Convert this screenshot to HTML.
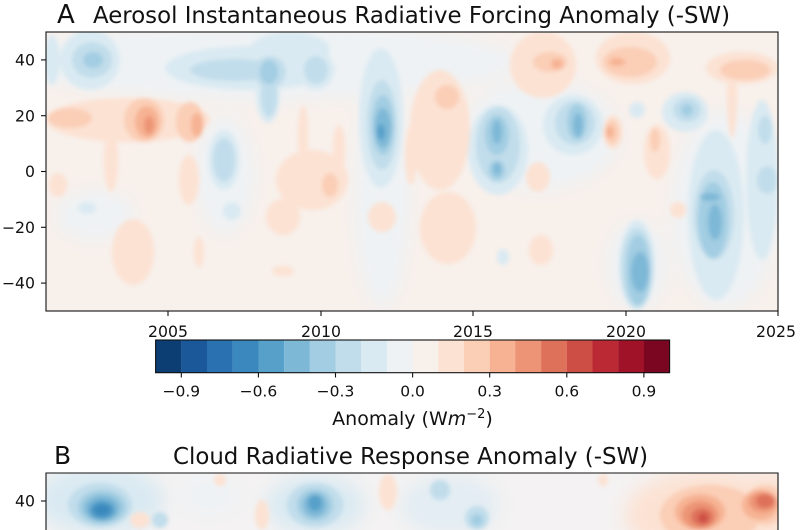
<!DOCTYPE html>
<html><head><meta charset="utf-8"><style>
html,body{margin:0;padding:0;background:#fff;width:800px;height:530px;overflow:hidden;}
svg{display:block;}
text{font-family:"DejaVu Sans","Liberation Sans",sans-serif;fill:#111;}
</style></head><body>
<svg width="800" height="530" viewBox="0 0 800 530" xmlns="http://www.w3.org/2000/svg" overflow="hidden">
<defs>
<clipPath id="ca"><rect x="46" y="32" width="732" height="279"/></clipPath>
<filter id="bl" x="-30%" y="-30%" width="160%" height="160%"><feGaussianBlur stdDeviation="2"/></filter>
<filter id="bl2" x="-30%" y="-30%" width="160%" height="160%"><feGaussianBlur stdDeviation="9"/></filter>
<pattern id="pb" patternUnits="userSpaceOnUse" x="0" y="0" width="800" height="600">
<rect x="0" y="440" width="800" height="160" fill="#f4f2f2"/>
<g filter="url(#bl2)">
<ellipse cx="100" cy="500" rx="65" ry="35" fill="#daeaf2"/>
<ellipse cx="315" cy="505" rx="50" ry="30" fill="#daeaf2"/>
<ellipse cx="450" cy="505" rx="50" ry="30" fill="#e3edf3"/>
<ellipse cx="210" cy="495" rx="30" ry="20" fill="#eef2f5"/>
<ellipse cx="710" cy="515" rx="85" ry="45" fill="#fce2d3"/>
<ellipse cx="770" cy="505" rx="25" ry="35" fill="#fce2d3"/>
</g>
<g filter="url(#bl)">
<g fill="#fbceb6">
<ellipse cx="710" cy="515" rx="50" ry="30"/>
<ellipse cx="765" cy="505" rx="20" ry="20"/>
</g>
<g fill="#c1ddeb">
<ellipse cx="100" cy="505" rx="32" ry="22"/>
<ellipse cx="315" cy="505" rx="28" ry="22"/>
<ellipse cx="477" cy="518" rx="12" ry="12"/>
<ellipse cx="160" cy="520" rx="8" ry="8"/>
<ellipse cx="440" cy="490" rx="10" ry="10"/>
</g>
<g fill="#a2cde2">
<ellipse cx="102" cy="507" rx="24" ry="17"/>
<ellipse cx="315" cy="505" rx="18" ry="16"/>
<ellipse cx="477" cy="520" rx="6" ry="6"/>
</g>
<g fill="#7eb8d7">
<ellipse cx="102" cy="508" rx="18" ry="13"/>
<ellipse cx="315" cy="505" rx="12" ry="12"/>
</g>
<g fill="#57a0ca">
<ellipse cx="102" cy="510" rx="13" ry="10"/>
<ellipse cx="315" cy="503" rx="7" ry="8"/>
</g>
<g fill="#3a88bd"><ellipse cx="102" cy="510" rx="9" ry="6"/></g>
<g fill="#fce2d3">
<ellipse cx="388" cy="492" rx="9" ry="18"/>
<ellipse cx="262" cy="515" rx="7" ry="15"/>
<ellipse cx="140" cy="520" rx="10" ry="8"/>
<ellipse cx="220" cy="480" rx="6" ry="6"/>
<ellipse cx="603" cy="480" rx="5" ry="6"/>
</g>
<g fill="#f6b293">
<ellipse cx="700" cy="512" rx="25" ry="18"/>
<ellipse cx="760" cy="505" rx="18" ry="15"/>
</g>
<g fill="#ec9475">
<ellipse cx="700" cy="515" rx="18" ry="14"/>
<ellipse cx="763" cy="502" rx="14" ry="10"/>
</g>
<g fill="#de715a">
<ellipse cx="702" cy="517" rx="11" ry="9"/>
<ellipse cx="765" cy="501" rx="9" ry="7"/>
</g>
<g fill="#cd4e44"><ellipse cx="703" cy="518" rx="5" ry="5"/></g>
</g>
</pattern>
</defs>

<!-- Panel A heatmap -->
<g clip-path="url(#ca)">
<rect x="46" y="32" width="732" height="279" fill="#f8f0eb"/>
<g filter="url(#bl2)" fill="#eef2f5">
<ellipse cx="270" cy="62" rx="250" ry="38"/>
<ellipse cx="225" cy="175" rx="30" ry="60"/>
<ellipse cx="382" cy="190" rx="28" ry="120"/>
<ellipse cx="540" cy="135" rx="80" ry="55"/>
<ellipse cx="725" cy="210" rx="53" ry="100"/>
<ellipse cx="637" cy="265" rx="30" ry="45"/>
<ellipse cx="95" cy="215" rx="40" ry="25"/>
</g>
<g filter="url(#bl)">
<g fill="#daeaf2">
<ellipse cx="90" cy="60" rx="30" ry="30"/>
<ellipse cx="52" cy="60" rx="8" ry="25"/>
<ellipse cx="250" cy="68" rx="85" ry="22"/>
<ellipse cx="290" cy="50" rx="40" ry="18"/>
<ellipse cx="268" cy="95" rx="12" ry="28"/>
<ellipse cx="316" cy="70" rx="18" ry="20"/>
<ellipse cx="381" cy="118" rx="22" ry="70"/>
<ellipse cx="224" cy="160" rx="16" ry="30"/>
<ellipse cx="232" cy="211" rx="9" ry="9"/>
<ellipse cx="87" cy="208" rx="9" ry="6"/>
<ellipse cx="498" cy="150" rx="30" ry="45"/>
<ellipse cx="573" cy="125" rx="30" ry="30"/>
<ellipse cx="637" cy="110" rx="8" ry="8"/>
<ellipse cx="685" cy="112" rx="23" ry="20"/>
<ellipse cx="716" cy="215" rx="28" ry="85"/>
<ellipse cx="762" cy="180" rx="16" ry="80"/>
<ellipse cx="637" cy="265" rx="18" ry="45"/>
<ellipse cx="503" cy="257" rx="6" ry="8"/>
</g>
<g fill="#c1ddeb">
<ellipse cx="92" cy="60" rx="20" ry="18"/>
<ellipse cx="235" cy="70" rx="45" ry="11"/>
<ellipse cx="270" cy="72" rx="16" ry="16"/>
<ellipse cx="269" cy="95" rx="8" ry="22"/>
<ellipse cx="316" cy="70" rx="12" ry="14"/>
<ellipse cx="382" cy="125" rx="15" ry="45"/>
<ellipse cx="224" cy="160" rx="11" ry="22"/>
<ellipse cx="498" cy="145" rx="22" ry="38"/>
<ellipse cx="575" cy="123" rx="20" ry="22"/>
<ellipse cx="687" cy="110" rx="14" ry="12"/>
<ellipse cx="714" cy="215" rx="20" ry="45"/>
<ellipse cx="765" cy="130" rx="7" ry="14"/>
<ellipse cx="767" cy="180" rx="10" ry="14"/>
<ellipse cx="637" cy="268" rx="16" ry="40"/>
</g>
<g fill="#a2cde2">
<ellipse cx="93" cy="60" rx="10" ry="8"/>
<ellipse cx="269" cy="72" rx="9" ry="12"/>
<ellipse cx="383" cy="125" rx="11" ry="30"/>
<ellipse cx="497" cy="135" rx="12" ry="20"/>
<ellipse cx="497" cy="170" rx="8" ry="10"/>
<ellipse cx="577" cy="122" rx="10" ry="18"/>
<ellipse cx="687" cy="110" rx="6" ry="6"/>
<ellipse cx="713" cy="220" rx="15" ry="38"/>
<ellipse cx="638" cy="270" rx="12" ry="35"/>
</g>
<g fill="#7eb8d7">
<ellipse cx="383" cy="128" rx="8" ry="20"/>
<ellipse cx="497" cy="132" rx="5" ry="12"/>
<ellipse cx="497" cy="169" rx="4" ry="6"/>
<ellipse cx="578" cy="125" rx="5" ry="12"/>
<ellipse cx="710" cy="197" rx="10" ry="4"/>
<ellipse cx="715" cy="222" rx="7" ry="18"/>
<ellipse cx="640" cy="272" rx="9" ry="20"/>
</g>
<g fill="#57a0ca"><ellipse cx="381" cy="132" rx="4" ry="8"/></g>

<g fill="#fce2d3">
<ellipse cx="128" cy="120" rx="82" ry="22"/>
<ellipse cx="111" cy="160" rx="7" ry="32"/>
<ellipse cx="189" cy="180" rx="10" ry="25"/>
<ellipse cx="58" cy="185" rx="9" ry="12"/>
<ellipse cx="133" cy="252" rx="21" ry="33"/>
<ellipse cx="199" cy="252" rx="5" ry="15"/>
<ellipse cx="312" cy="180" rx="36" ry="30"/>
<ellipse cx="303" cy="135" rx="5" ry="30"/>
<ellipse cx="339" cy="150" rx="6" ry="25"/>
<ellipse cx="283" cy="217" rx="17" ry="18"/>
<ellipse cx="283" cy="271" rx="11" ry="5"/>
<ellipse cx="382" cy="217" rx="14" ry="15"/>
<ellipse cx="411" cy="155" rx="6" ry="30"/>
<ellipse cx="440" cy="130" rx="30" ry="60"/>
<ellipse cx="448" cy="228" rx="28" ry="36"/>
<ellipse cx="543" cy="65" rx="33" ry="33"/>
<ellipse cx="633" cy="58" rx="37" ry="26"/>
<ellipse cx="742" cy="68" rx="36" ry="16"/>
<ellipse cx="732" cy="100" rx="5" ry="38"/>
<ellipse cx="613" cy="132" rx="10" ry="17"/>
<ellipse cx="657" cy="152" rx="13" ry="27"/>
<ellipse cx="538" cy="177" rx="12" ry="15"/>
<ellipse cx="541" cy="250" rx="12" ry="15"/>
<ellipse cx="678" cy="210" rx="8" ry="8"/>
</g>
<g fill="#fbceb6">
<ellipse cx="70" cy="118" rx="22" ry="10"/>
<ellipse cx="144" cy="120" rx="20" ry="22"/>
<ellipse cx="190" cy="122" rx="14" ry="20"/>
<ellipse cx="330" cy="185" rx="8" ry="12"/>
<ellipse cx="550" cy="62" rx="17" ry="10"/>
<ellipse cx="630" cy="62" rx="27" ry="15"/>
<ellipse cx="447" cy="97" rx="12" ry="12"/>
<ellipse cx="612" cy="132" rx="7" ry="12"/>
<ellipse cx="655" cy="140" rx="5" ry="12"/>
<ellipse cx="745" cy="70" rx="25" ry="10"/>
</g>
<g fill="#f6b293">
<ellipse cx="147" cy="122" rx="12" ry="16"/>
<ellipse cx="197" cy="125" rx="6" ry="12"/>
<ellipse cx="557" cy="64" rx="6" ry="5"/>
<ellipse cx="617" cy="62" rx="8" ry="4"/>
<ellipse cx="610" cy="132" rx="4" ry="6"/>
</g>
<g fill="#ec9475"><ellipse cx="149" cy="125" rx="5" ry="9"/></g>
</g>
</g>

<!-- Panel B heatmap (pattern-filled, stays within frame) -->
<rect x="46" y="473" width="732" height="57" fill="url(#pb)"/>

<!-- Panel A axes -->
<rect x="46" y="32" width="732" height="279" fill="none" stroke="#111" stroke-width="1.1"/>
<g stroke="#111" stroke-width="1.1">
<line x1="41" y1="59.9" x2="46" y2="59.9"/>
<line x1="41" y1="115.7" x2="46" y2="115.7"/>
<line x1="41" y1="171.5" x2="46" y2="171.5"/>
<line x1="41" y1="227.3" x2="46" y2="227.3"/>
<line x1="41" y1="283.1" x2="46" y2="283.1"/>
<line x1="168" y1="311" x2="168" y2="316"/>
<line x1="321" y1="311" x2="321" y2="316"/>
<line x1="473" y1="311" x2="473" y2="316"/>
<line x1="626" y1="311" x2="626" y2="316"/>
<line x1="778" y1="311" x2="778" y2="316"/>
</g>
<g font-size="15.7" text-anchor="end">
<text x="35" y="65.5">40</text>
<text x="35" y="121.3">20</text>
<text x="35" y="177.1">0</text>
<text x="35" y="232.9">−20</text>
<text x="35" y="288.7">−40</text>
</g>
<g font-size="15.7" text-anchor="middle">
<text x="168" y="337">2005</text>
<text x="321" y="337">2010</text>
<text x="473" y="337">2015</text>
<text x="626" y="337">2020</text>
<text x="776" y="337">2025</text>
</g>
<text x="57" y="23" font-size="26">A</text>
<text x="93" y="23" font-size="22.8" textLength="637" lengthAdjust="spacingAndGlyphs">Aerosol Instantaneous Radiative Forcing Anomaly (-SW)</text>

<!-- Colorbar -->
<g>
<rect x="155.6" y="340" width="25.8" height="32.7" fill="#0c3e74"/>
<rect x="181.3" y="340" width="25.8" height="32.7" fill="#1a5899"/>
<rect x="207" y="340" width="25.8" height="32.7" fill="#2a71b2"/>
<rect x="232.7" y="340" width="25.8" height="32.7" fill="#3a88bd"/>
<rect x="258.4" y="340" width="25.8" height="32.7" fill="#57a0ca"/>
<rect x="284.1" y="340" width="25.8" height="32.7" fill="#7eb8d7"/>
<rect x="309.8" y="340" width="25.8" height="32.7" fill="#a2cde2"/>
<rect x="335.5" y="340" width="25.8" height="32.7" fill="#c1ddeb"/>
<rect x="361.2" y="340" width="25.8" height="32.7" fill="#daeaf2"/>
<rect x="386.9" y="340" width="25.8" height="32.7" fill="#eef2f5"/>
<rect x="412.6" y="340" width="25.8" height="32.7" fill="#f8f0eb"/>
<rect x="438.3" y="340" width="25.8" height="32.7" fill="#fce2d3"/>
<rect x="464" y="340" width="25.8" height="32.7" fill="#fbceb6"/>
<rect x="489.7" y="340" width="25.8" height="32.7" fill="#f6b293"/>
<rect x="515.4" y="340" width="25.8" height="32.7" fill="#ec9475"/>
<rect x="541.1" y="340" width="25.8" height="32.7" fill="#de715a"/>
<rect x="566.8" y="340" width="25.8" height="32.7" fill="#cd4e44"/>
<rect x="592.5" y="340" width="25.8" height="32.7" fill="#bb2a34"/>
<rect x="618.2" y="340" width="25.8" height="32.7" fill="#9f1228"/>
<rect x="643.9" y="340" width="25.7" height="32.7" fill="#7a0622"/>
<rect x="155.6" y="340" width="514" height="32.7" fill="none" stroke="#111" stroke-width="1.1"/>
</g>
<g stroke="#111" stroke-width="1.1">
<line x1="181.3" y1="372.7" x2="181.3" y2="377.5"/>
<line x1="258.4" y1="372.7" x2="258.4" y2="377.5"/>
<line x1="335.5" y1="372.7" x2="335.5" y2="377.5"/>
<line x1="412.6" y1="372.7" x2="412.6" y2="377.5"/>
<line x1="489.7" y1="372.7" x2="489.7" y2="377.5"/>
<line x1="566.8" y1="372.7" x2="566.8" y2="377.5"/>
<line x1="643.9" y1="372.7" x2="643.9" y2="377.5"/>
</g>
<g font-size="15.5" text-anchor="middle">
<text x="181.3" y="396.5">−0.9</text>
<text x="258.4" y="396.5">−0.6</text>
<text x="335.5" y="396.5">−0.3</text>
<text x="412.6" y="396.5">0.0</text>
<text x="489.7" y="396.5">0.3</text>
<text x="566.8" y="396.5">0.6</text>
<text x="643.9" y="396.5">0.9</text>
</g>
<text x="412.5" y="425" font-size="19" text-anchor="middle">Anomaly (W<tspan font-style="italic">m</tspan><tspan font-size="13" dy="-7">−2</tspan><tspan dy="7">)</tspan></text>

<!-- Panel B axes -->
<text x="54" y="464" font-size="25">B</text>
<text x="173" y="464" font-size="22.8" textLength="475" lengthAdjust="spacingAndGlyphs">Cloud Radiative Response Anomaly (-SW)</text>
<path d="M46 530 L46 473 L778 473 L778 530" fill="none" stroke="#111" stroke-width="1.1"/>
<line x1="41" y1="501" x2="46" y2="501" stroke="#111" stroke-width="1.1"/>
<text x="35" y="506.6" font-size="15.7" text-anchor="end">40</text>
</svg>
</body></html>
